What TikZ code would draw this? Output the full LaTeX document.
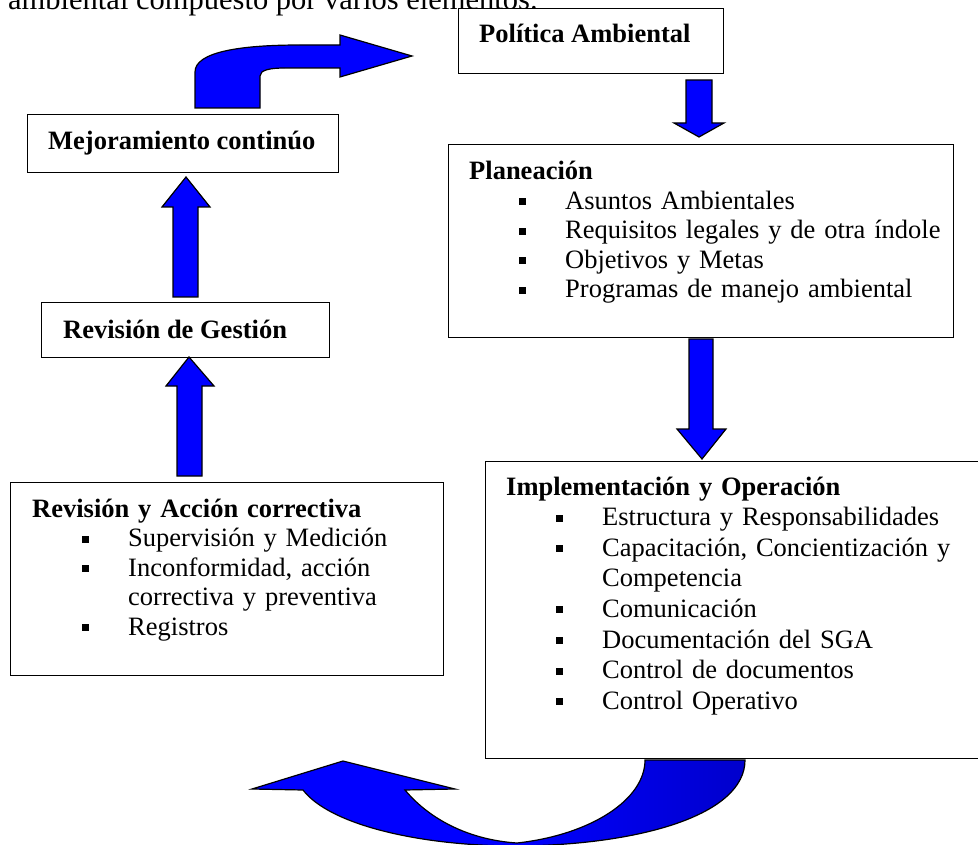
\documentclass[tikz,border=0pt]{standalone}
\usepackage{fontspec}
\setmainfont{Liberation Serif}
\newcommand\sqbul{\hspace*{50pt}\rule[4pt]{7pt}{7pt}\hspace{39pt}}
\newcommand\contind{\hspace*{96pt}}
\begin{document}
\begin{tikzpicture}[x=1pt,y=-1pt,
  box/.style={draw=black, line width=1.4pt, fill=white, anchor=north west, inner sep=0pt},
  ttl/.style={anchor=base west, inner sep=0pt, font=\fontsize{26.5}{30}\selectfont\bfseries},
  lst/.style={anchor=base west, inner sep=0pt, text width=480pt, align=left,
              font=\fontsize{26.5}{#1}\selectfont},
  barrow/.style={fill=blue, draw=black, line width=1.2pt, line join=miter},
  darkblue/.style={},
]
\definecolor{dkblue}{RGB}{0,0,204}
\path[fill=white, use as bounding box] (0,0) rectangle (978,845);

% header text (cut off at top)
\node[anchor=base west, inner sep=0pt, font=\fontsize{30.5}{35}\selectfont] (hdr) at (8,10)
  {ambiental compuesto por varios elementos.};

% boxes
\node[box, minimum width=265pt, minimum height=65pt] (pol) at (458,8) {};
\node[box, minimum width=505pt, minimum height=193pt] (plan) at (448,144) {};
\node[box, minimum width=510pt, minimum height=297pt] (impl) at (485,461) {};
\node[box, minimum width=433pt, minimum height=193pt] (rac) at (10,482) {};
\node[box, minimum width=288pt, minimum height=55pt] (rg) at (41,302) {};
\node[box, minimum width=311pt, minimum height=58pt] (mej) at (27,114) {};

% box texts
\node[ttl] (polt) at (479,43) {Política Ambiental};
\node[ttl] (mejt) at (48,150) {Mejoramiento continúo};
\node[ttl] (rgt) at (63,338) {Revisión de Gestión};

\node[lst=29.5] (plant) at (469,180) {\textbf{Planeación}\\
  \sqbul Asuntos Ambientales\\
  \sqbul Requisitos legales y de otra índole\\
  \sqbul Objetivos y Metas\\
  \sqbul Programas de manejo ambiental};

\node[lst=30.6] (implt) at (506,495) {\textbf{Implementación y Operación}\\
  \sqbul Estructura y Responsabilidades\\
  \sqbul Capacitación, Concientización y\\
  \contind Competencia\\
  \sqbul Comunicación\\
  \sqbul Documentación del SGA\\
  \sqbul Control de documentos\\
  \sqbul Control Operativo};

\node[lst=29.5] (ract) at (32,517) {\textbf{Revisión y Acción correctiva}\\
  \sqbul Supervisión y Medición\\
  \sqbul Inconformidad, acción\\
  \contind correctiva y preventiva\\
  \sqbul Registros};

% straight block arrows
% pol -> plan
\draw[barrow] (686,80) -- (712,80) -- (712,123) -- (724,123) -- (699,137) -- (674,123) -- (686,123) -- cycle;
% plan -> impl
\draw[barrow] (689,339) -- (713,339) -- (713,429) -- (726,429) -- (702,459) -- (677,429) -- (689,429) -- cycle;
% rac -> rg
\draw[barrow] (177,476) -- (202,476) -- (202,386) -- (214,386) -- (189,357) -- (166,386) -- (177,386) -- cycle;
% rg -> mej
\draw[barrow] (173,297) -- (198,297) -- (198,207) -- (210,207) -- (186,177) -- (162,207) -- (173,207) -- cycle;

% curved arrow mej -> pol
\draw[barrow] (195,108) -- (195,72) .. controls (195,52) and (240,45) .. (300,45) -- (340,45) -- (340,35)
  -- (412,56) -- (340,77) -- (340,68) -- (285,68) .. controls (270,68) and (260,70) .. (260,76) -- (260,108) -- cycle;

% curved arrow impl -> rac (bottom)
\fill[blue] (517,846) .. controls (420,846) and (330,825) .. (303,790) -- (252,789) -- (343,761) -- (455,789)
  -- (405,790) .. controls (430,820) and (470,840) .. (517,843) -- cycle;
\shade[left color=blue, middle color=dkblue, right color=dkblue]
  (645,760) -- (745,760) .. controls (745,815) and (640,845) .. (517,846) -- (517,843)
  .. controls (590,835) and (645,800) .. (645,760) -- cycle;
\draw[line width=1.2pt, line join=miter] (645,760) -- (745,760) .. controls (745,815) and (640,845) .. (517,846)
  .. controls (420,846) and (330,825) .. (303,790) -- (252,789) -- (343,761) -- (455,789)
  -- (405,790) .. controls (430,820) and (470,840) .. (517,843)
  .. controls (590,835) and (645,800) .. (645,760) -- cycle;
\end{tikzpicture}
\end{document}
